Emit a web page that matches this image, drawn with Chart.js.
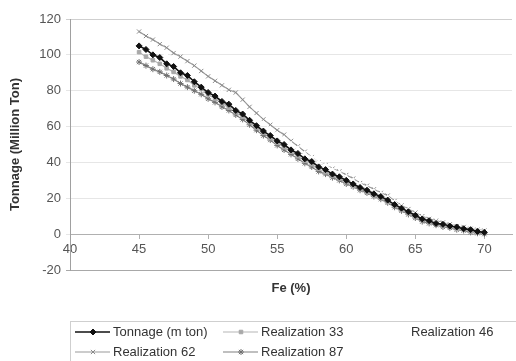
<!DOCTYPE html>
<html><head><meta charset="utf-8">
<script src="https://cdn.jsdelivr.net/npm/chart.js@4/dist/chart.umd.min.js"></script>
<style>html,body{margin:0;padding:0;background:#fff}#wrap{width:516px;height:361px;position:relative}</style>
</head><body><div id="wrap"><canvas id="c" width="516" height="361"></canvas></div>
<script>
// Fe grade (%) categories
const feGrades = [45,45.5,46,46.5,47,47.5,48,48.5,49,49.5,50,50.5,51,51.5,52,52.5,53,53.5,54,54.5,55,55.5,56,56.5,57,57.5,58,58.5,59,59.5,60,60.5,61,61.5,62,62.5,63,63.5,64,64.5,65,65.5,66,66.5,67,67.5,68,68.5,69,69.5,70];

const tonnage = [105,103,100,98.5,95,93.5,90,88.5,85,82,79,77,74,72.5,69,67,63.5,60.5,57.5,55,52,50,47,45,42,40.5,37.5,36,33.5,32,30,28,26,24.5,22.5,21,19,16.5,14.5,12.5,10.5,8.5,7.5,6,5.5,4.5,4,3,2.5,1.5,1];
const real33 = [101.5,99,97,95,92.5,90.5,88,86,83,81,78,75.5,73,70.5,68,65.5,62.5,59.5,56.5,53.5,51,48.5,46,43.5,41,39,36.5,34.5,32.5,31,29,27,25,23.5,21.5,20,18,16,13.5,11.5,9.5,8,6.5,5.5,4.5,4,3,2.5,1.5,1,0.5];
const real46 = [108,106,104,102,99.5,97.5,95,93,90,87.5,84.5,82,79,77,74,71.5,68,65,62,59,56,53.5,50.5,48,45,43,40,38.5,36,34.5,32,30,28,26,24,22.5,20.5,18,15.5,13.5,11.5,9.5,8,7,6,5,4.5,3.5,3,2,1.5];
const real62 = [113,110.5,108.5,106,104,101,99,96.5,94,91,88,85.5,83,80.5,79,75,71,67.5,64,61,58,55.5,52,49,46,43,40,38.5,36.5,35,33,31,28.5,27,25,23,21.5,18.5,16,14,12,10,8.5,7.5,6.5,5.5,4.5,4,3,2.5,2];
const real87 = [96,94,92,90.5,88.5,86.5,84,82,80,78,75.5,73.5,71,69,66.5,64,61,58,55,52.5,49.5,47,44.5,42,39.5,37.5,35,33.5,31.5,30,28,26.5,24.5,23,21,19.5,17.5,15,13,11,9,7,6,5,4,3.5,2.5,2,1,0.5,0];

const seriesLabels = ['Tonnage (m ton)','Realization 33','Realization 46','Realization 62','Realization 87'];
const yTickStep = 20;
const xTickStep = 5;

const FONT = 'Liberation Sans, Arial, sans-serif';

function mk(label, vals, line, marker, style, radius, bw){
  return {label, data: vals.map((v,i)=>({x: feGrades[i], y: v})),
    borderColor: line, backgroundColor: marker, pointStyle: style, pointRadius: radius,
    pointBorderColor: marker, pointBackgroundColor: marker, pointBorderWidth: 1,
    borderWidth: bw, tension: 0, pointHoverRadius: radius};
}

const datasets = [
  mk(seriesLabels[0], tonnage, '#111111', '#111111', 'rectRot', 3, 1.6),
  mk(seriesLabels[1], real33, '#b5b5b5', '#a8a8a8', 'rect', 2.5, 1.2),
  mk(seriesLabels[2], real46, '#ffffff', '#ffffff', 'triangle', 2.5, 1.2),
  mk(seriesLabels[3], real62, '#9a9a9a', '#8a8a8a', 'crossRot', 3, 1.2),
  mk(seriesLabels[4], real87, '#808080', '#707070', 'star', 3, 1.2)
];
datasets.forEach((d,i)=>{ d.order = i; });

function drawMarker(ctx, style, x, y, r, color){
  const opts = {pointStyle: style, radius: r, rotation: 0, borderWidth: 1};
  ctx.fillStyle = color; ctx.strokeStyle = color; ctx.lineWidth = 1;
  if (Chart.helpers && Chart.helpers.drawPoint) { Chart.helpers.drawPoint(ctx, opts, x, y); }
}

const boxLegend = {
  id: 'boxLegend',
  afterDraw(chart){
    const ctx = chart.ctx;
    ctx.save();
    ctx.strokeStyle = '#cfcfcf'; ctx.lineWidth = 1;
    ctx.strokeRect(70.5, 321.5, 470, 60);
    const cols = [75, 223, 373], rows = [332, 352];
    ctx.font = '13px ' + FONT; ctx.textBaseline = 'middle'; ctx.textAlign = 'left';
    chart.data.datasets.forEach((d,i)=>{
      const x = cols[i%3], y = rows[Math.floor(i/3)];
      ctx.strokeStyle = d.borderColor; ctx.lineWidth = d.borderWidth;
      ctx.beginPath(); ctx.moveTo(x, y); ctx.lineTo(x+35, y); ctx.stroke();
      drawMarker(ctx, d.pointStyle, x+18, y, d.pointRadius, d.pointBackgroundColor);
      ctx.fillStyle = '#333';
      ctx.fillText(d.label, x+38, y);
    });
    ctx.restore();
  }
};

new Chart(document.getElementById('c'), {
  type: 'line',
  data: { datasets },
  options: {
    responsive: false, animation: false,
    layout: { padding: { top: 19, right: 4, bottom: 61, left: 0 } },
    plugins: { legend: { display: false }, tooltip: { enabled: false } },
    scales: {
      x: {
        type: 'linear', min: 40, max: 72, position: { y: 0 },
        ticks: { stepSize: xTickStep, includeBounds: false, font: { family: FONT, size: 13 }, color: '#555', padding: 3 },
        grid: { drawOnChartArea: false, drawTicks: true, tickLength: 4, color: '#b0b0b0' },
        border: { color: '#b0b0b0' }
      },
      x2: {
        type: 'linear', min: 40, max: 72, position: 'bottom',
        ticks: { display: false }, grid: { display: false }, border: { display: false },
        title: { display: true, text: 'Fe (%)', font: { family: FONT, size: 13, weight: 'bold' }, color: '#333', padding: { top: 0, bottom: 4 } },
        afterFit(s){ s.height = 30; }
      },
      y: {
        min: -20, max: 120,
        ticks: { stepSize: yTickStep, font: { family: FONT, size: 13 }, color: '#555', padding: 5 },
        grid: { tickLength: 4, color: c => (c.tick && c.tick.value === -20) ? '#a8a8a8' : (c.tick && c.tick.value === 120 ? '#cfcfcf' : '#e6e6e6') },
        border: { color: '#a0a0a0' },
        title: { display: true, text: 'Tonnage (Million Ton)', font: { family: FONT, size: 13, weight: 'bold' }, color: '#333', padding: { top: 8, bottom: 0 } },
        afterFit(s){ s.width = 70; }
      }
    }
  },
  plugins: [boxLegend]
});
</script></body></html>
